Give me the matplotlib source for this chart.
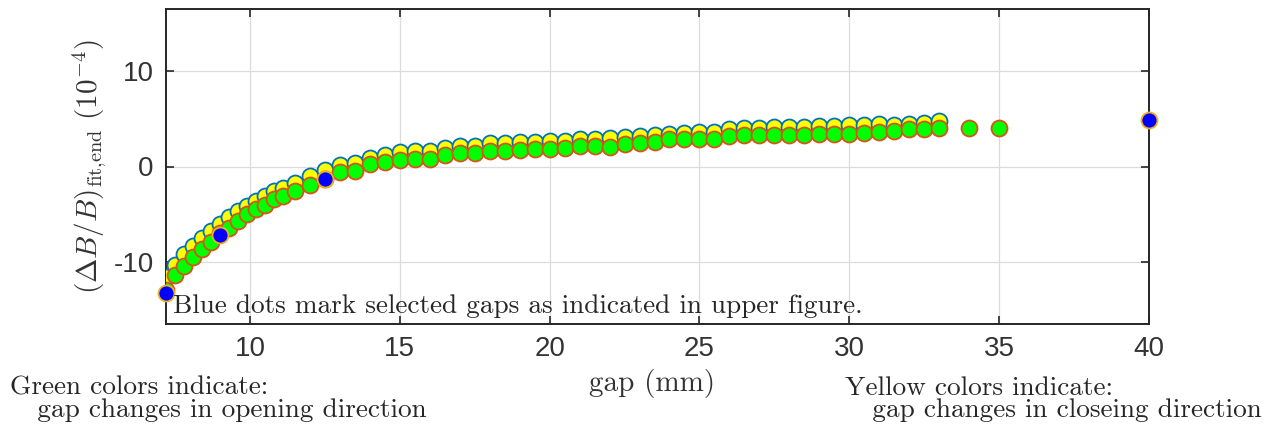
import matplotlib
matplotlib.use("Agg")
import matplotlib.pyplot as plt

plt.rcParams['mathtext.fontset'] = 'cm'
plt.rcParams['font.family'] = ['Liberation Sans', 'DejaVu Sans']
plt.rcParams['axes.unicode_minus'] = False

# gaps (mm) where both opening (green) and closing (yellow) data exist
gap_both = [7.2, 7.5, 7.8, 8.1, 8.4, 8.7, 9.0, 9.3, 9.6, 9.9, 10.2, 10.5, 10.8, 11.1,
            11.5, 12.0, 12.5, 13.0, 13.5, 14.0, 14.5, 15.0, 15.5, 16.0, 16.5, 17.0,
            17.5, 18.0, 18.5, 19.0, 19.5, 20.0, 20.5, 21.0, 21.5, 22.0, 22.5, 23.0,
            23.5, 24.0, 24.5, 25.0, 25.5, 26.0, 26.5, 27.0, 27.5, 28.0, 28.5, 29.0,
            29.5, 30.0, 30.5, 31.0, 31.5, 32.0, 32.5, 33.0]
closing = [-11.6, -10.3, -9.2, -8.3, -7.5, -6.8, -6.0, -5.3, -4.7, -4.1, -3.6, -3.1,
           -2.6, -2.2, -1.7, -1.0, -0.4, 0.2, 0.4, 0.9, 1.2, 1.5, 1.6, 1.6, 1.9, 2.2,
           2.2, 2.5, 2.5, 2.6, 2.6, 2.7, 2.7, 2.9, 2.9, 3.0, 3.1, 3.2, 3.3, 3.4, 3.5,
           3.6, 3.6, 3.9, 4.0, 4.0, 4.1, 4.1, 4.1, 4.2, 4.2, 4.3, 4.4, 4.5, 4.4, 4.5,
           4.6, 4.8]
gap_open = gap_both + [34.0, 35.0]
opening = [-12.9, -11.4, -10.4, -9.5, -8.6, -7.95, -7.0, -6.4, -5.7, -5.0, -4.5, -4.0,
           -3.4, -3.1, -2.6, -1.9, -1.3, -0.55, -0.5, 0.3, 0.5, 0.7, 0.75, 0.8, 1.2,
           1.4, 1.4, 1.65, 1.65, 1.75, 1.8, 1.8, 1.9, 2.1, 2.1, 2.0, 2.4, 2.45, 2.6,
           2.85, 2.85, 2.85, 2.85, 3.2, 3.3, 3.3, 3.35, 3.35, 3.35, 3.45, 3.4, 3.45,
           3.55, 3.6, 3.7, 3.9, 3.9, 4.0, 4.0, 4.0]
gap_sel = [7.2, 9.0, 12.5, 40.0]
sel = [-13.2, -7.2, -1.35, 4.9]

xticks = [10, 15, 20, 25, 30, 35, 40]
yticks = [-10, 0, 10]

CM = ['cmr10', 'DejaVu Serif']

W, H = 1282, 429
fig = plt.figure(figsize=(W / 100, H / 100), dpi=100)
ax = fig.add_axes([166 / W, 1 - 324 / H, (1149 - 166) / W, (324 - 9) / H])

ms = 11.5
ax.plot(gap_both, closing, 'o', ms=ms, mfc='#FFFF00', mec='#0072BD', mew=1.3, zorder=3)
ax.plot(gap_open, opening, 'o', ms=ms, mfc='#00FF00', mec='#D95319', mew=1.3, zorder=4)
ax.plot(gap_sel, sel, 'o', ms=ms, mfc='#0000FF', mec='#EDB120', mew=1.3, zorder=5,
        clip_on=False)

ax.set_xlim(7.2, 40)
ax.set_ylim(-16.5, 16.5)
ax.set_xticks(xticks)
ax.set_yticks(yticks)
ax.grid(True, color='#DCDCDC', lw=0.9)
ax.set_axisbelow(True)
for s in ax.spines.values():
    s.set_color('#262626')
    s.set_linewidth(1.4)
ax.tick_params(direction='in', length=6, width=1.2, top=True, right=True,
               colors='#262626', labelsize=20, pad=9)
for lab in ax.get_xticklabels() + ax.get_yticklabels():
    lab.set_color('#333333')

ax.set_ylabel(r'$(\Delta B/B)_{\mathrm{fit{,}end}}\ (10^{-4})$', fontsize=21,
              color='#333333', labelpad=4)
ax.text(7.45, -14.6, 'Blue dots mark selected gaps as indicated in upper figure.',
        family=CM, fontsize=19.6, color='#262626', va='center', ha='left', zorder=6)

fig.text(652 / W, 1 - 383 / H, 'gap (mm)', family=CM, fontsize=21, color='#333333',
         ha='center', va='center')
fig.text(10 / W, 1 - 399 / H, 'Green colors indicate:\n   gap changes in opening direction',
         family=CM, fontsize=19.6, color='#262626', ha='left', va='center',
         linespacing=0.9)
fig.text(845 / W, 1 - 399 / H, 'Yellow colors indicate:\n   gap changes in closeing direction',
         family=CM, fontsize=19.6, color='#262626', ha='left', va='center',
         linespacing=0.9)

fig.savefig('out.png', dpi=100)
